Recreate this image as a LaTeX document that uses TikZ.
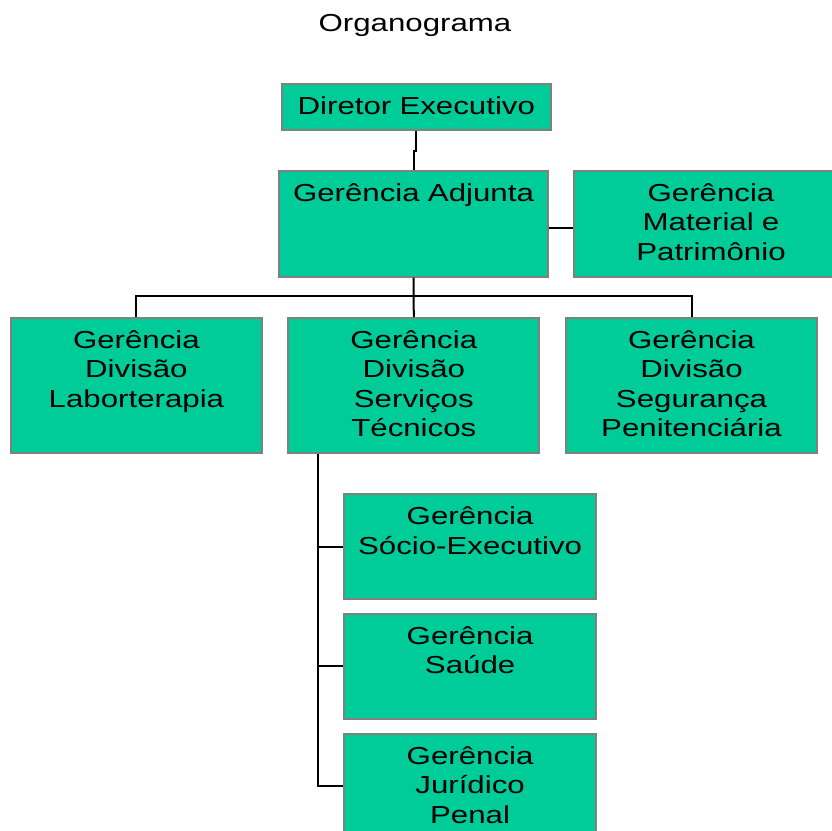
\documentclass[tikz,border=0pt]{standalone}
\usepackage{fontspec}
\setmainfont{Liberation Sans}
\newfontfamily\boxfont{Liberation Sans}[FakeStretch=1.27]
\usepackage{xcolor}
\definecolor{orggreen}{HTML}{00CC99}
\definecolor{orggrey}{HTML}{808080}
\usetikzlibrary{calc}

\tikzset{
  orgbox/.style={draw=orggrey,fill=orggreen,line width=1pt,anchor=north west,
    inner sep=0pt,align=center,text height=15.2pt,
    font=\boxfont\fontsize{12.3}{14.75}\selectfont},
  conn/.style={draw=black,line width=1pt}
}

\begin{document}
\begin{tikzpicture}[x=0.5pt,y=-0.5pt]
\useasboundingbox (0,0) rectangle (831,831);

\node[anchor=base,font=\boxfont\fontsize{12.3}{14.75}\selectfont] (title) at (415,31) {Organograma};

% top levels
\node[orgbox,text width=134.6pt,text depth=8.1pt] (de) at (280.7,82.7) {Diretor Executivo};
\node[orgbox,text width=134.2pt,text depth=37.6pt] (ga) at (278.3,170) {Ger\^encia Adjunta};
\node[orgbox,text width=136.7pt,text depth=37.6pt] (gmp) at (573.3,170) {Ger\^encia\\Material e\\Patrim\^onio};

% divisions
\node[orgbox,text width=125.4pt,text depth=52.3pt] (lab) at (10,317) {Ger\^encia\\Divis\~ao\\Laborterapia};
\node[orgbox,text width=125.5pt,text depth=52.3pt] (st) at (287.3,317) {Ger\^encia\\Divis\~ao\\Servi\c{c}os\\T\'ecnicos};
\node[orgbox,text width=125.5pt,text depth=52.3pt] (sp) at (565,317) {Ger\^encia\\Divis\~ao\\Seguran\c{c}a\\Penitenci\'aria};

% under Servicos Tecnicos
\node[orgbox,text width=125.8pt,text depth=37.3pt] (se) at (343.3,493.3) {Ger\^encia\\S\'ocio-Executivo};
\node[orgbox,text width=125.8pt,text depth=37.3pt] (sa) at (343.3,612.7) {Ger\^encia\\Sa\'ude};
\node[orgbox,text width=125.8pt,text depth=37.3pt] (jp) at (343.3,732.7) {Ger\^encia\\Jur\'idico\\Penal};

% connectors
\draw[conn] (de.south) -- ++(0,20) -| (ga.north);
\draw[conn] ([yshift=-2pt]ga.east) -- ([yshift=-2pt]gmp.west);
\draw[conn] (ga.south) -- (st.north);
\draw[conn] (lab.north) -- ++(0,-21) -| (sp.north);
\coordinate (stdrop) at ([xshift=15.5pt]st.south west);
\draw[conn] (stdrop) |- (jp.west);
\foreach \b in {se,sa}
  \draw[conn] (stdrop |- \b.west) -- (\b.west);
\end{tikzpicture}
\end{document}
